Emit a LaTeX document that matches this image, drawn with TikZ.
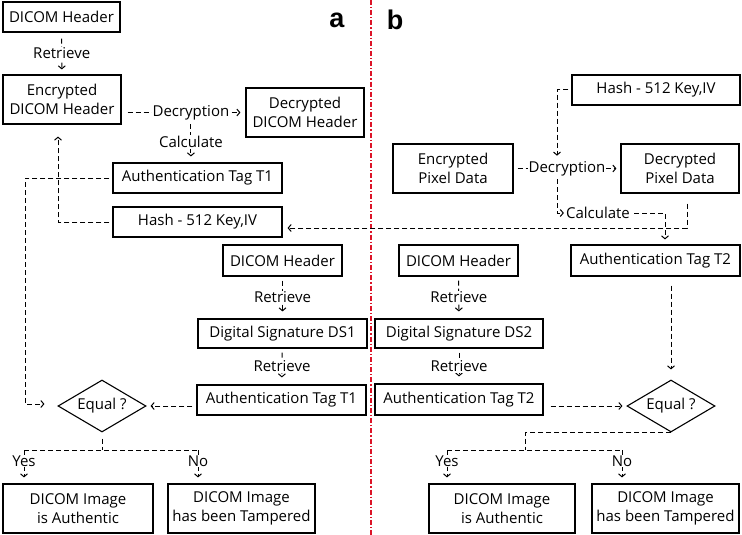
\documentclass[tikz,border=0pt]{standalone}
\usepackage{fontspec}
\setmainfont{Open Sans}
\newfontfamily\labfont{Liberation Sans}
\usetikzlibrary{shapes.geometric,arrows.meta}
\definecolor{sepred}{RGB}{220,20,40}
\begin{document}
\begin{tikzpicture}[x=1pt,y=-1pt,
  box/.style={draw,line width=1.1pt,align=center,inner sep=0pt,font=\fontsize{15}{19.5}\selectfont},
  dec/.style={diamond,draw,line width=1.1pt,inner sep=0pt,aspect=1.7,minimum width=88pt,minimum height=52pt,font=\fontsize{15}{19.5}\selectfont},
  conn/.style={line width=1pt,dash pattern=on 5pt off 3pt,-{Straight Barb[length=3pt,width=7pt]}},
  dline/.style={line width=1pt,dash pattern=on 5pt off 3pt},
  lbl/.style={fill=white,inner sep=1pt,font=\fontsize{15}{17}\selectfont},
  big/.style={font=\labfont\bfseries\fontsize{27}{27}\selectfont,inner sep=0pt},
]
\useasboundingbox (0,0) rectangle (742,535);
% separator
\draw[draw=sepred,line width=1.1pt,dash pattern=on 5pt off 2pt on 1.2pt off 2pt] (371,0) -- (371,535);
\node[big] (la) at (337,20) {a};
\node[big] (lb) at (395,20) {b};

% ---------- part a ----------
\node[box,minimum width=117pt,minimum height=30pt] (hdrA1) at (61.5,17) {DICOM Header};
\node[box,minimum width=118pt,minimum height=49pt] (encA) at (62,99.5) {Encrypted\\DICOM Header};
\node[box,minimum width=118pt,minimum height=49pt] (decA) at (305,112.5) {Decrypted\\DICOM Header};
\node[box,minimum width=169pt,minimum height=30pt] (tagA1) at (197.5,178) {Authentication Tag T1};
\node[box,minimum width=169pt,minimum height=30pt] (hashA) at (197.5,222) {Hash - 512 Key,IV};
\node[box,minimum width=119pt,minimum height=31pt] (hdrA2) at (282.5,260.5) {DICOM Header};
\node[box,minimum width=169pt,minimum height=29pt] (dsA) at (282.5,333.5) {Digital Signature DS1};
\node[box,minimum width=169pt,minimum height=30pt] (tagA2) at (281.5,400) {Authentication Tag T1};
\node[dec] (eqA) at (102,406) {Equal ?};
\node[box,minimum width=150pt,minimum height=49pt] (authA) at (78,508.5) {DICOM Image\\is Authentic};
\node[box,minimum width=147pt,minimum height=49pt] (tampA) at (241.5,508.5) {DICOM Image\\has been Tampered};

\draw[conn,shorten <=6pt,shorten >=5pt] (hdrA1) -- node[lbl]{Retrieve} (encA);
\draw[conn,shorten <=6pt,shorten >=5pt] (encA.east |- decA.west) -- node[lbl,pos=0.56] (decLblA) {Decryption} (decA.west);
\draw[conn,shorten <=3pt,shorten >=6pt] (decLblA.south) -- node[lbl]{Calculate} (decLblA.south |- tagA1.north);
\draw[conn,shorten <=3pt,shorten >=12pt] (hashA.west) -| ([xshift=-4pt]encA.south);
\draw[conn,shorten <=3pt,shorten >=13pt] (tagA1.west) -- ++(-87,0) |- ([yshift=2pt]eqA.west);
\draw[conn,shorten <=4pt,shorten >=7pt] (hdrA2) -- node[lbl]{Retrieve} (dsA);
\draw[conn,shorten <=4pt,shorten >=7pt] (dsA) -- node[lbl]{Retrieve} (tagA2);
\draw[conn,shorten <=4pt,shorten >=4pt] (tagA2.west |- eqA.east) -- (eqA.east);
\coordinate (tA) at (102,450);
\coordinate (yesA) at (24,450);
\coordinate (noA) at (198,450);
\draw[dline,shorten <=6pt] (eqA.south) -- (tA);
\draw[dline] (yesA) -- (noA);
\draw[conn,shorten >=6pt] (yesA) -- node[lbl,pos=0.33]{Yes} (yesA |- authA.north);
\draw[conn,shorten >=6pt] (noA) -- node[lbl,pos=0.33]{No} (noA |- tampA.north);

% ---------- part b ----------
\node[box,minimum width=168pt,minimum height=30pt] (hashB) at (656,90) {Hash - 512 Key,IV};
\node[box,minimum width=120pt,minimum height=49pt] (encB) at (453,168.5) {Encrypted\\Pixel Data};
\node[box,minimum width=118pt,minimum height=49pt] (decB) at (680,168.5) {Decrypted\\Pixel Data};
\node[box,minimum width=169pt,minimum height=31pt] (tagB1) at (655.5,260.5) {Authentication Tag T2};
\node[box,minimum width=119pt,minimum height=31pt] (hdrB) at (458.5,260.5) {DICOM Header};
\node[box,minimum width=168pt,minimum height=29pt] (dsB) at (459,333.5) {Digital Signature DS2};
\node[box,minimum width=168pt,minimum height=31pt] (tagB2) at (459,399.5) {Authentication Tag T2};
\node[dec] (eqB) at (671,406) {Equal ?};
\node[box,minimum width=146pt,minimum height=49pt] (authB) at (502,508.5) {DICOM Image\\is Authentic};
\node[box,minimum width=147pt,minimum height=49pt] (tampB) at (665.5,508.5) {DICOM Image\\has been Tampered};
\node[lbl] (calcB) at (598,213) {Calculate};

\draw[conn,shorten <=4pt,shorten >=4pt] (encB.east) -- node[lbl] (decLblB) {Decryption} (decB.west);
\coordinate (jB) at (557,0);
\coordinate (kB) at (665,0);
\draw[conn,shorten <=3pt,shorten >=4pt] (hashB.west) -| (jB |- decLblB.north);
\draw[conn,shorten <=2pt,shorten >=1pt] (jB |- decLblB.south) |- (calcB.west);
\draw[conn,shorten <=3pt,shorten >=5pt] (calcB.east) -| (kB |- tagB1.north);
\draw[conn,shorten <=10pt,shorten >=5pt] ([xshift=7pt]decB.south) |- ([yshift=-6pt]hashA.east);
\draw[conn,shorten <=4pt,shorten >=7pt] (hdrB) -- node[lbl]{Retrieve} (dsB);
\draw[conn,shorten <=4pt,shorten >=7pt] (dsB) -- node[lbl]{Retrieve} (tagB2);
\draw[conn,shorten <=9pt,shorten >=10pt] (eqB.north |- tagB1.south) -- (eqB.north);
\draw[conn,shorten <=7pt,shorten >=4pt] (tagB2.east |- eqB.west) -- (eqB.west);
\coordinate (tB) at (525,450);
\coordinate (yesB) at (447,450);
\coordinate (noB) at (622,450);
\draw[dline] (eqB.south) -| (tB);
\draw[dline] (yesB) -- (noB);
\draw[conn,shorten >=6pt] (yesB) -- node[lbl,pos=0.33]{Yes} (yesB |- authB.north);
\draw[conn,shorten >=6pt] (noB) -- node[lbl,pos=0.33]{No} (noB |- tampB.north);
\end{tikzpicture}
\end{document}
